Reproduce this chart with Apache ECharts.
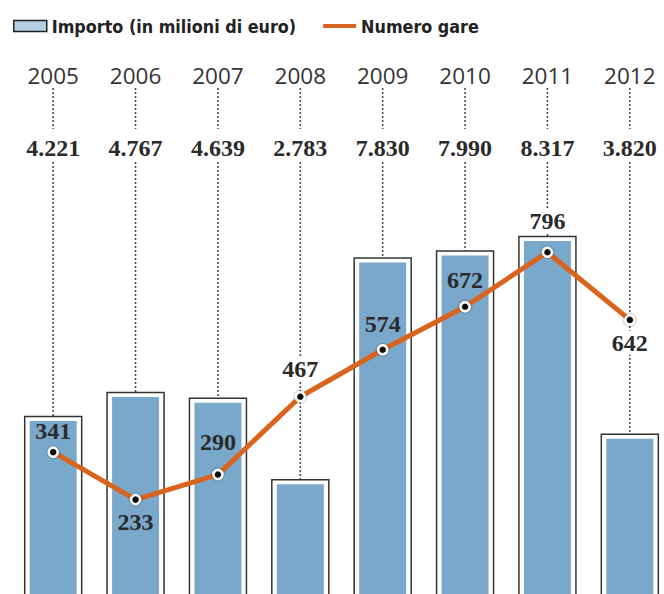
<!DOCTYPE html>
<html>
<head>
<meta charset="utf-8">
<script src="https://cdn.jsdelivr.net/npm/echarts@6/dist/echarts.min.js"></script>
<style>
  html, body { margin: 0; padding: 0; background: #fff; }
  #grafico { width: 664px; height: 594px; }
</style>
</head>
<body>
<div id="grafico"></div>
<script>
// Dati
const anni = ['2005', '2006', '2007', '2008', '2009', '2010', '2011', '2012'];
const importo = [4221, 4767, 4639, 2783, 7830, 7990, 8317, 3820];
const numeroGare = [341, 233, 290, 467, 574, 672, 796, 642];

// stile etichette della linea: sotto il punto, fondo bianco, distanza
const etichetteSotto = ['2006', '2012'];
const etichetteFondo = ['2008', '2011', '2012'];
const distanzaEtichette = { '2005': 3, '2006': 5, '2007': 15, '2008': 10, '2009': 8, '2010': 9, '2011': 13, '2012': 5 };

const BLU = '#7aa8cb';
const ARANCIO = '#d8641e';
const SERIF = "'Liberation Serif', 'DejaVu Serif', serif";

function formatta(n) {
  return String(n).replace(/\B(?=(\d{3})+(?!\d))/g, '.');
}

const dom = document.getElementById('grafico');
const chart = echarts.init(dom, null, { renderer: 'svg' });

const option = {
  animation: false,
  legend: {
    left: 8,
    top: 12,
    itemWidth: 33,
    itemHeight: 11,
    itemGap: 27,
    textStyle: {
      fontFamily: "'DejaVu Sans Condensed', 'Liberation Sans Narrow', sans-serif",
      fontWeight: 'bold',
      fontSize: 17.8,
      color: '#222'
    },
    data: [
      {
        name: 'Importo (in milioni di euro)',
        icon: 'rect',
        itemStyle: { color: '#b3cfe3', borderColor: '#222', borderWidth: 1.5 }
      },
      {
        name: 'Numero gare',
        icon: 'path://M0,0h33v4h-33z',
        itemStyle: { color: ARANCIO, borderWidth: 0 }
      }
    ]
  },
  grid: { left: 12, width: 659, top: 0, height: 602, outerBoundsMode: 'none', containLabel: false },
  xAxis: {
    type: 'category',
    data: anni,
    show: false
  },
  yAxis: [
    { type: 'value', min: 0, max: 13700, show: false },
    { type: 'value', min: 0, max: 1370, show: false }
  ],
  series: [
    {
      name: 'Importo (in milioni di euro)',
      type: 'custom',
      z: 1,
      clip: false,
      encode: { x: 0, y: 1 },
      data: importo.map((v, i) => [i, v]),
      renderItem: function (params, api) {
        const i = api.value(0);
        const v = api.value(1);
        const top = api.coord([i, v]);
        const base = api.coord([i, 0]);
        const w = 57, padX = 5, padY = 4.5;
        const x = top[0];
        const tratto = { stroke: '#444', lineWidth: 1.5, lineDash: [2, 2] };
        return {
          type: 'group',
          children: [
            { type: 'line', shape: { x1: x, y1: 88, x2: x, y2: 129 }, style: tratto },
            { type: 'line', shape: { x1: x, y1: 162, x2: x, y2: top[1] }, style: tratto },
            {
              type: 'rect',
              shape: { x: x - w / 2, y: top[1], width: w, height: base[1] - top[1] + 10 },
              style: { fill: '#fff', stroke: '#333', lineWidth: 1.5 }
            },
            {
              type: 'rect',
              shape: { x: x - w / 2 + padX, y: top[1] + padY, width: w - 2 * padX, height: base[1] - top[1] + 10 },
              style: { fill: BLU }
            },
            {
              type: 'text',
              style: {
                text: anni[i], x: x, y: 75, align: 'center', verticalAlign: 'middle',
                fontFamily: "'Open Sans', sans-serif", fontSize: 22.5, fill: '#333'
              }
            },
            {
              type: 'text',
              style: {
                text: formatta(v), x: x, y: 148, align: 'center', verticalAlign: 'middle',
                fontFamily: SERIF, fontWeight: 'bold', fontSize: 24, fill: '#2a2a2a'
              }
            }
          ]
        };
      }
    },
    {
      name: 'Numero gare',
      type: 'line',
      yAxisIndex: 1,
      z: 5,
      data: numeroGare.map((v, i) => {
        const anno = anni[i];
        const sotto = etichetteSotto.includes(anno);
        return {
          value: v,
          label: {
            position: sotto ? 'bottom' : 'top',
            distance: distanzaEtichette[anno],
            backgroundColor: etichetteFondo.includes(anno) ? '#fff' : 'transparent'
          }
        };
      }),
      lineStyle: { color: ARANCIO, width: 5 },
      symbol: 'circle',
      symbolSize: 9,
      itemStyle: {
        color: '#111',
        borderColor: '#fff',
        borderWidth: 2.5,
        shadowColor: 'rgba(0,0,0,0.6)',
        shadowBlur: 2
      },
      label: {
        show: true,
        fontFamily: SERIF,
        fontWeight: 'bold',
        fontSize: 24,
        color: '#2a2a2a',
        padding: [0, 2]
      }
    }
  ]
};

chart.setOption(option);
</script>
</body>
</html>
